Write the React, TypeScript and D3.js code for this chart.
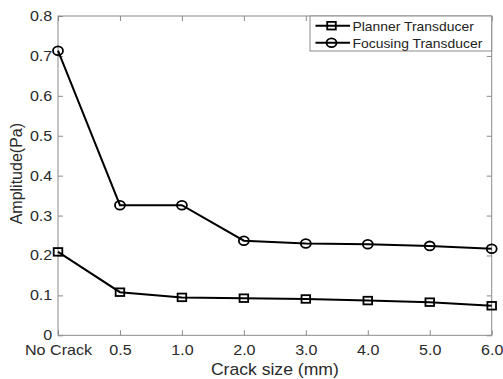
import React, { useEffect, useRef } from 'react';
import * as d3 from 'd3';

const categories = ['No Crack', '0.5', '1.0', '2.0', '3.0', '4.0', '5.0', '6.0'];
const plannerValues = [0.209, 0.108, 0.095, 0.093, 0.091, 0.087, 0.083, 0.074];
const focusingValues = [0.713, 0.326, 0.326, 0.237, 0.230, 0.228, 0.224, 0.217];
const yTicks = [0, 0.1, 0.2, 0.3, 0.4, 0.5, 0.6, 0.7, 0.8];
const yTickLabels = ['0', '0.1', '0.2', '0.3', '0.4', '0.5', '0.6', '0.7', '0.8'];
const seriesNames = ['Planner Transducer', 'Focusing Transducer'];

const W = 503;
const H = 379;
const FONT = '"Liberation Sans", Arial, sans-serif';
const STRETCH = 1.15; // source image text looks horizontally stretched
const AXIS_GREY = '#8a8a8a';

const App = () => {
  const svgRef = useRef<SVGSVGElement>(null);

  useEffect(() => {
    const left = 58, right = 491.7, top = 16, bottom = 335.3;

    const svg = d3.select(svgRef.current);
    svg.selectAll('*').remove();

    svg.append('rect').attr('width', W).attr('height', H).attr('fill', '#fff');

    const x = d3.scalePoint<string>().domain(categories).range([left, right]);
    const y = d3.scaleLinear().domain([0, 0.8]).range([bottom, top]);

    const styleAxis = (g: any) => {
      g.select('.domain').remove();
      g.selectAll('line').attr('stroke', AXIS_GREY).attr('stroke-width', 1);
      g.selectAll('text')
        .attr('fill', '#2a2a2a')
        .style('font-family', FONT)
        .style('font-size', '14px')
        .attr('transform', `scale(${STRETCH},1)`);
    };

    // bottom axis with labels
    svg.append('g')
      .attr('transform', `translate(0,${bottom})`)
      .call(d3.axisBottom(x).tickSizeInner(-5).tickSizeOuter(0).tickPadding(10))
      .call(styleAxis);

    // left axis with labels
    svg.append('g')
      .attr('transform', `translate(${left},0)`)
      .call(d3.axisLeft(y).tickValues(yTicks).tickFormat((d, i) => yTickLabels[i])
        .tickSizeInner(-5).tickSizeOuter(0).tickPadding(5))
      .call(styleAxis);

    // top + right ticks, no labels
    svg.append('g')
      .attr('transform', `translate(0,${top})`)
      .call(d3.axisTop(x).tickSizeInner(-5).tickSizeOuter(0).tickFormat(() => ''))
      .call(styleAxis);
    svg.append('g')
      .attr('transform', `translate(${right},0)`)
      .call(d3.axisRight(y).tickValues(yTicks).tickSizeInner(-5).tickSizeOuter(0).tickFormat(() => ''))
      .call(styleAxis);

    // frame
    svg.append('rect')
      .attr('x', left).attr('y', top)
      .attr('width', right - left).attr('height', bottom - top)
      .attr('fill', 'none')
      .attr('stroke', AXIS_GREY)
      .attr('stroke-width', 1);

    // axis labels
    svg.append('text')
      .attr('transform', `translate(${(left + right) / 2},375) scale(1.1,1)`)
      .attr('text-anchor', 'middle')
      .style('font-family', FONT)
      .style('font-size', '16px')
      .attr('fill', '#2a2a2a')
      .text('Crack size (mm)');

    svg.append('text')
      .attr('transform', `translate(22,${(top + bottom) / 2 - 2}) rotate(-90)`)
      .attr('text-anchor', 'middle')
      .style('font-family', FONT)
      .style('font-size', '16px')
      .attr('fill', '#2a2a2a')
      .text('Amplitude(Pa)');

    const line = d3.line<number>()
      .x((d, i) => x(categories[i])!)
      .y(d => y(d));

    const drawSquare = (g: any, cx: number, cy: number) =>
      g.append('rect')
        .attr('x', cx - 4.3).attr('y', cy - 3.8)
        .attr('width', 8.6).attr('height', 7.6)
        .attr('fill', 'none').attr('stroke', '#000').attr('stroke-width', 1.8);
    const drawCircle = (g: any, cx: number, cy: number) =>
      g.append('ellipse')
        .attr('cx', cx).attr('cy', cy)
        .attr('rx', 5).attr('ry', 4.4)
        .attr('fill', 'none').attr('stroke', '#000').attr('stroke-width', 1.8);

    const series = [
      { values: plannerValues, marker: drawSquare },
      { values: focusingValues, marker: drawCircle },
    ];

    series.forEach(s => {
      const g = svg.append('g');
      g.append('path')
        .attr('d', line(s.values))
        .attr('fill', 'none')
        .attr('stroke', '#000')
        .attr('stroke-width', 2);
      s.values.forEach((v, i) => s.marker(g, x(categories[i])!, y(v)));
    });

    // legend
    const legend = svg.append('g');
    legend.append('rect')
      .attr('x', 310).attr('y', top)
      .attr('width', right - 310).attr('height', 35)
      .attr('fill', '#fff')
      .attr('stroke', AXIS_GREY)
      .attr('stroke-width', 1);

    seriesNames.forEach((name, i) => {
      const ly = 25.7 + i * 17;
      legend.append('line')
        .attr('x1', 315.5).attr('x2', 350)
        .attr('y1', ly).attr('y2', ly)
        .attr('stroke', '#000').attr('stroke-width', 2);
      series[i].marker(legend, 331.5, ly);
      legend.append('text')
        .attr('transform', `translate(352.5,${ly + 4.8}) scale(1.07,1)`)
        .style('font-family', FONT)
        .style('font-size', '13px')
        .attr('fill', '#222')
        .text(name);
    });
  }, []);

  return (
    <svg
      ref={svgRef}
      width={W}
      height={H}
      style={{ position: 'absolute', left: 0, top: 0, display: 'block' }}
    />
  );
};

export default App;
